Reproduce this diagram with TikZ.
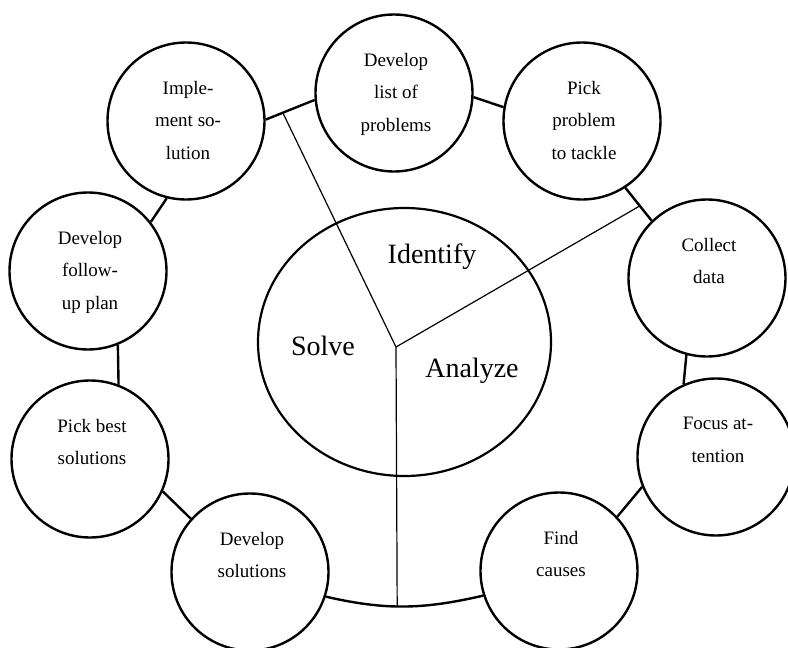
\documentclass[tikz,border=0pt]{standalone}
\usepackage{fontspec}
\setmainfont{Liberation Serif}
\usetikzlibrary{shapes.geometric}

\begin{document}
\begin{tikzpicture}[x=1pt, y=-1pt,
    stage/.style={draw, circle, line width=2.4pt, minimum size=157pt, fill=white},
    stagetext/.style={anchor=north, align=center, inner sep=0pt, font=\fontsize{19}{32.5}\selectfont},
    link/.style={line width=2.4pt},
    spoke/.style={line width=1.2pt},
    phase/.style={font=\fontsize{28}{32}\selectfont},
]
  \useasboundingbox (0,0) rectangle (788,648);

  % Steps round the cycle
  \node[stage] (s1) at (394,93) {};
  \node[stage] (s2) at (582,121) {};
  \node[stage] (s3) at (707,278) {};
  \node[stage] (s4) at (716,457) {};
  \node[stage] (s5) at (559,571) {};
  \node[stage] (s6) at (250,572) {};
  \node[stage] (s7) at (90,459) {};
  \node[stage] (s8) at (88,271) {};
  \node[stage] (s9) at (186,121) {};

  \node[stagetext] (l1) at ([xshift=2pt,yshift=40pt]s1.center) {Develop\\list of\\problems};
  \node[stagetext] (l2) at ([xshift=2pt,yshift=40pt]s2.center) {Pick\\problem\\to tackle};
  \node[stagetext] (l3) at ([xshift=2pt,yshift=40pt]s3.center) {Collect\\data};
  \node[stagetext] (l4) at ([xshift=2pt,yshift=40pt]s4.center) {Focus at-\\tention};
  \node[stagetext] (l5) at ([xshift=2pt,yshift=40pt]s5.center) {Find\\causes};
  \node[stagetext] (l6) at ([xshift=2pt,yshift=40pt]s6.center) {Develop\\solutions};
  \node[stagetext] (l7) at ([xshift=2pt,yshift=40pt]s7.center) {Pick best\\solutions};
  \node[stagetext] (l8) at ([xshift=2pt,yshift=40pt]s8.center) {Develop\\follow-\\up plan};
  \node[stagetext] (l9) at ([xshift=2pt,yshift=40pt]s9.center) {Imple-\\ment so-\\lution};

  % Links between neighbouring steps
  \draw[link] (s1.-3) -- (s2.170);
  \draw[link] (s2.-57) -- coordinate[pos=0.55] (e2) (s3.134);
  \draw[link] (s3.-105) -- (s4.114);
  \draw[link] (s4.202) -- (s5.43);
  \draw[link] (s6.-18) to[out=-13, in=193] coordinate[pos=0.45] (e3) (s5.198);
  \draw[link] (s6.138.5) -- (s7.-24);
  \draw[link] (s7.69) -- (s8.-68);
  \draw[link] (s8.38) -- (s9.256);
  \draw[link] (s9.1) -- coordinate[pos=0.35] (e1) (s1.185);

  % Centre: three phases
  \coordinate (hub) at (396,347);
  \node[draw, ellipse, line width=2.2pt, minimum width=293pt, minimum height=268pt] (core) at (404.5,342) {};
  \draw[spoke] (hub) -- (e1);
  \draw[spoke] (hub) -- (e2);
  \draw[spoke] (hub) -- (e3);

  \node[phase] (p1) at (432,257) {Identify};
  \node[phase] (p2) at (323,346) {Solve};
  \node[phase] (p3) at (472,371) {Analyze};
\end{tikzpicture}
\end{document}
